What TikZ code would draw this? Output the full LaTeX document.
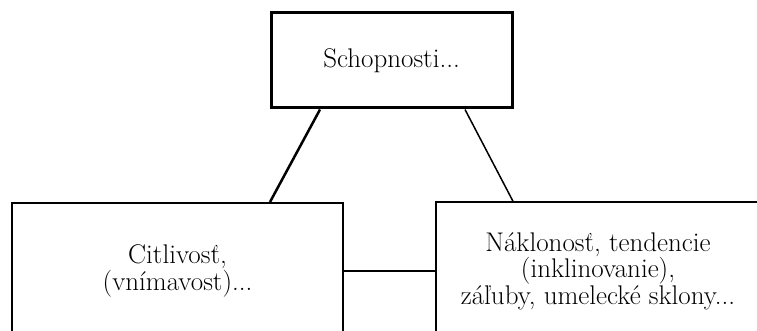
\documentclass[tikz,border=0pt]{standalone}
\usepackage{fontspec}
\usepackage{tikz}
\usetikzlibrary{positioning,calc}

\tikzset{
  textbox/.style={draw, rectangle, align=center, inner sep=0pt,
    font=\fontsize{27}{26.5}\selectfont},
}

\begin{document}
\begin{tikzpicture}[x=1pt,y=-1pt]
        % Page frame
        \useasboundingbox (0,0) rectangle (757,331);
        \clip (0,0) rectangle (757,331);
        % Boxes
        \node[textbox, line width=3pt, minimum width=241pt, minimum height=95pt]
          (schop) at (391.5,60.5) {Schopnosti...};
        \node[textbox, line width=2pt, minimum width=331pt, minimum height=136pt]
          (citl) at (177.5,271) {Citlivosť,\\(vnímavost)...};
        \node[textbox, line width=1.4pt, minimum width=324pt, minimum height=138pt]
          (nakl) at (598,271) {Náklonosť, tendencie\\(inklinovanie),\\záľuby, umelecké sklony...};
        % Draw connectors
        \draw[line width=2.5pt] ([xshift=-71.5pt]schop.south) -- ([xshift=92.5pt]citl.north);
        \draw[line width=1.5pt] ([xshift=73.5pt]schop.south) -- ([xshift=-85pt]nakl.north);
        \draw[line width=2.5pt] (citl.east) -- (nakl.west);
\end{tikzpicture}
\end{document}
